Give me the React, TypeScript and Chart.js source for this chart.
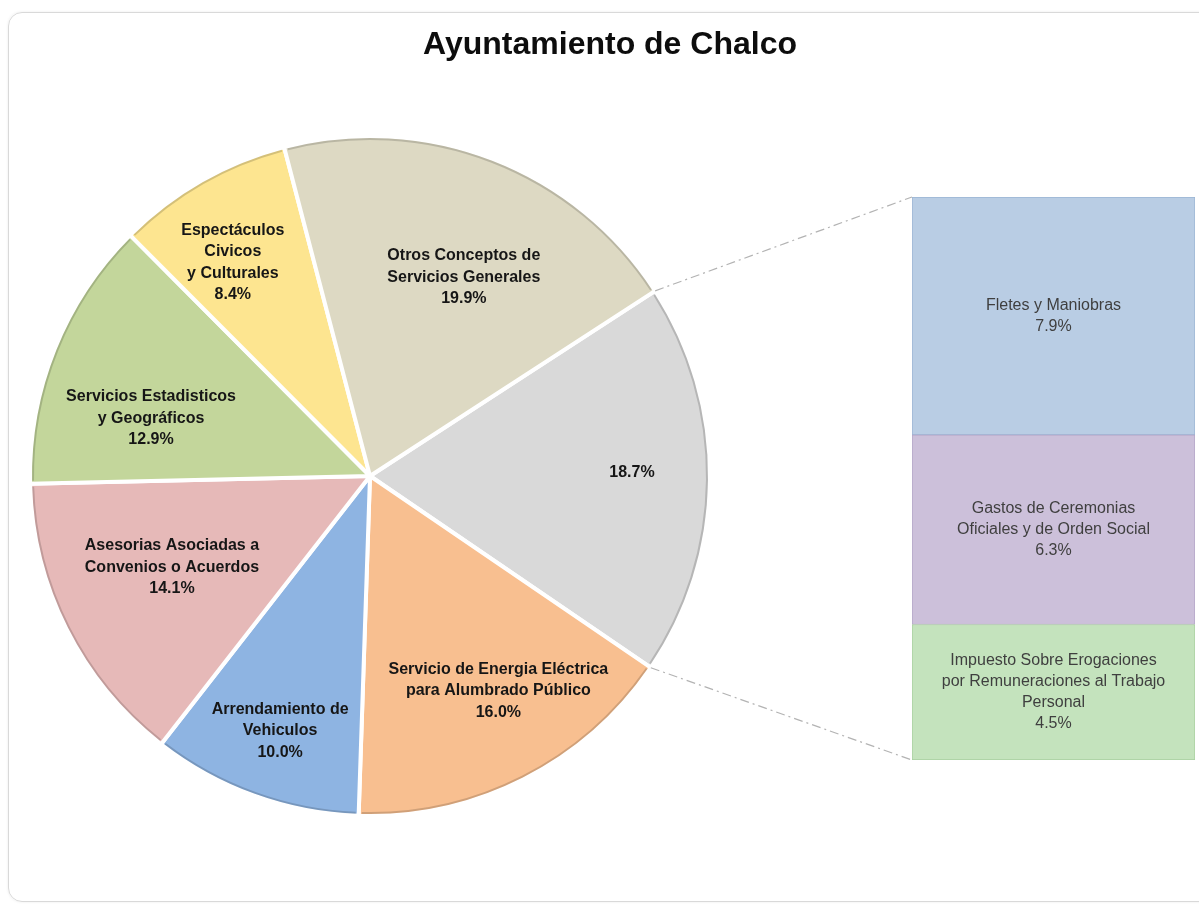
import React, { useEffect, useRef } from "react";
import { Chart, registerables } from "chart.js";

Chart.register(...registerables);

// ---------- data ----------
const chartTitle = "Ayuntamiento de Chalco";

const pieCategories = [
  "Otros (desglose)",
  "Servicio de Energia Eléctrica para Alumbrado Público",
  "Arrendamiento de Vehiculos",
  "Asesorias Asociadas a Convenios o Acuerdos",
  "Servicios Estadisticos y Geográficos",
  "Espectáculos Civicos y Culturales",
  "Otros Conceptos de Servicios Generales",
];
const pieLabelLines: string[][] = [
  [],
  ["Servicio de Energia Eléctrica", "para Alumbrado Público"],
  ["Arrendamiento de", "Vehiculos"],
  ["Asesorias Asociadas a", "Convenios o Acuerdos"],
  ["Servicios Estadisticos", "y Geográficos"],
  ["Espectáculos", "Civicos", "y Culturales"],
  ["Otros Conceptos de", "Servicios Generales"],
];
const pieValues = [18.7, 16.0, 10.0, 14.1, 12.9, 8.4, 19.9];

const barCategories = [
  "Impuesto Sobre Erogaciones por Remuneraciones al Trabajo Personal",
  "Gastos de Ceremonias Oficiales y de Orden Social",
  "Fletes y Maniobras",
];
const barLabelLines: string[][] = [
  ["Impuesto Sobre Erogaciones", "por Remuneraciones al Trabajo", "Personal"],
  ["Gastos de Ceremonias", "Oficiales y de Orden Social"],
  ["Fletes y Maniobras"],
];
const barValues = [4.5, 6.3, 7.9];

// ---------- styles ----------
const pieColors = ["#d9d9d9", "#f8bf90", "#8eb4e2", "#e6b9b8", "#c3d69b", "#fde590", "#ddd9c3"];
const barColors = ["#c4e3bd", "#ccc0da", "#b9cde4"];
const barBorderColors = ["#a9cfa0", "#b3a5c6", "#9bb5d4"];
const labelRadius = [0.775, 0.74, 0.8, 0.645, 0.67, 0.75, 0.65];
const labelAngleShift = [-1.3, -4, -0.5, 2, -7.1, -3, 4.1];
const FONT = '"Liberation Sans", Arial, Helvetica, sans-serif';
const W = 1199;
const H = 908;

const pct = (v: number) => v.toFixed(1) + "%";

export default function App() {
  const pieRef = useRef<HTMLCanvasElement | null>(null);
  const barRef = useRef<HTMLCanvasElement | null>(null);

  useEffect(() => {
    if (!pieRef.current || !barRef.current) return;

    const pieDecor = {
      id: "pieDecor",
      afterDatasetsDraw(chart: any) {
        const ctx = chart.ctx;
        const meta = chart.getDatasetMeta(0);
        ctx.save();
        // subtle darker rim on each slice
        meta.data.forEach((arc: any) => {
          const p = arc.getProps(["x", "y", "startAngle", "endAngle", "outerRadius"]);
          const r = p.outerRadius - 3;
          const d = 3 / r;
          ctx.beginPath();
          ctx.arc(p.x, p.y, r, p.startAngle + d, p.endAngle - d);
          ctx.strokeStyle = "rgba(0,0,0,0.16)";
          ctx.lineWidth = 2;
          ctx.stroke();
        });
        // labels
        ctx.font = `bold 16px ${FONT}`;
        ctx.fillStyle = "#161616";
        ctx.textAlign = "center";
        ctx.textBaseline = "middle";
        meta.data.forEach((arc: any, i: number) => {
          const p = arc.getProps(["x", "y", "startAngle", "endAngle", "outerRadius"]);
          const a = (p.startAngle + p.endAngle) / 2 + (labelAngleShift[i] * Math.PI) / 180;
          const rr = (p.outerRadius - 2) * labelRadius[i];
          const cx = p.x + Math.cos(a) * rr;
          const cy = p.y + Math.sin(a) * rr;
          const lines = [...pieLabelLines[i], pct(pieValues[i])];
          const lh = 21.5;
          const y0 = cy - ((lines.length - 1) * lh) / 2;
          lines.forEach((t, k) => ctx.fillText(t, cx, y0 + k * lh));
        });
        ctx.restore();
      },
      afterDraw(chart: any) {
        const ctx = chart.ctx;
        ctx.save();
        ctx.font = `bold 32px ${FONT}`;
        ctx.fillStyle = "#0d0d0d";
        ctx.textAlign = "center";
        ctx.textBaseline = "alphabetic";
        ctx.fillText(chartTitle, 610, 54);
        ctx.restore();
      },
    };

    const pie = new Chart(pieRef.current, {
      type: "pie",
      data: {
        labels: pieCategories,
        datasets: [
          {
            data: pieValues,
            backgroundColor: pieColors,
            borderColor: "#ffffff",
            borderWidth: 4,
          },
        ],
      },
      options: {
        responsive: false,
        animation: false,
        devicePixelRatio: 1,
        rotation: 57,
        radius: 340,
        layout: { padding: { left: 0, right: W - 740, top: 76, bottom: H - 876 } },
        plugins: { legend: { display: false }, tooltip: { enabled: false }, title: { display: false } },
      } as any,
      plugins: [pieDecor],
    });

    const barDecor = {
      id: "barDecor",
      beforeDatasetsDraw(chart: any) {
        const ctx = chart.ctx;
        const arc: any = pie.getDatasetMeta(0).data[0];
        const p = arc.getProps(["x", "y", "startAngle", "endAngle", "outerRadius"]);
        const top: any = chart.getDatasetMeta(barValues.length - 1).data[0];
        const bot: any = chart.getDatasetMeta(0).data[0];
        const tp = top.getProps(["x", "y", "base", "width"]);
        const bp = bot.getProps(["x", "y", "base", "width"]);
        const r = p.outerRadius;
        ctx.save();
        ctx.strokeStyle = "#b3b3b3";
        ctx.lineWidth = 1.2;
        ctx.setLineDash([9, 4, 2, 4]);
        ctx.beginPath();
        ctx.moveTo(p.x + Math.cos(p.startAngle) * r, p.y + Math.sin(p.startAngle) * r);
        ctx.lineTo(tp.x - tp.width / 2, tp.y);
        ctx.moveTo(p.x + Math.cos(p.endAngle) * r, p.y + Math.sin(p.endAngle) * r);
        ctx.lineTo(bp.x - bp.width / 2, bp.base);
        ctx.stroke();
        ctx.restore();
      },
      afterDatasetsDraw(chart: any) {
        const ctx = chart.ctx;
        ctx.save();
        ctx.font = `16px ${FONT}`;
        ctx.fillStyle = "#3f3f3f";
        ctx.textAlign = "center";
        ctx.textBaseline = "middle";
        barValues.forEach((v, i) => {
          const el: any = chart.getDatasetMeta(i).data[0];
          const p = el.getProps(["x", "y", "base"]);
          const lines = [...barLabelLines[i], pct(v)];
          const lh = 21;
          const cy = (p.y + p.base) / 2;
          const y0 = cy - ((lines.length - 1) * lh) / 2;
          lines.forEach((t, k) => ctx.fillText(t, p.x, y0 + k * lh));
        });
        ctx.restore();
      },
    };

    const total = barValues.reduce((a, b) => a + b, 0);
    const bar = new Chart(barRef.current, {
      type: "bar",
      data: {
        labels: [""],
        datasets: barValues.map((v, i) => ({
          label: barCategories[i],
          data: [v],
          backgroundColor: barColors[i],
          borderColor: barBorderColors[i],
          borderWidth: 1,
          borderSkipped: false,
          categoryPercentage: 1,
          barPercentage: 1,
        })),
      },
      options: {
        responsive: false,
        animation: false,
        devicePixelRatio: 1,
        layout: { padding: { left: 912, right: W - 1195, top: 197, bottom: H - 760 } },
        scales: {
          x: { stacked: true, display: false },
          y: { stacked: true, display: false, min: 0, max: total },
        },
        plugins: { legend: { display: false }, tooltip: { enabled: false } },
      } as any,
      plugins: [barDecor],
    });

    return () => {
      bar.destroy();
      pie.destroy();
    };
  }, []);

  return (
    <div
      style={{
        position: "absolute",
        left: 0,
        top: 0,
        width: W,
        height: H,
        overflow: "hidden",
        background: "#ffffff",
      }}
    >
      <div
        style={{
          position: "absolute",
          left: 8,
          top: 12,
          width: 1210,
          height: 890,
          border: "1px solid #d9d9d9",
          borderRadius: 14,
          boxShadow: "0 0 3px rgba(0,0,0,0.08)",
          boxSizing: "border-box",
        }}
      />
      <canvas ref={pieRef} width={W} height={H} style={{ position: "absolute", left: 0, top: 0 }} />
      <canvas ref={barRef} width={W} height={H} style={{ position: "absolute", left: 0, top: 0 }} />
    </div>
  );
}
